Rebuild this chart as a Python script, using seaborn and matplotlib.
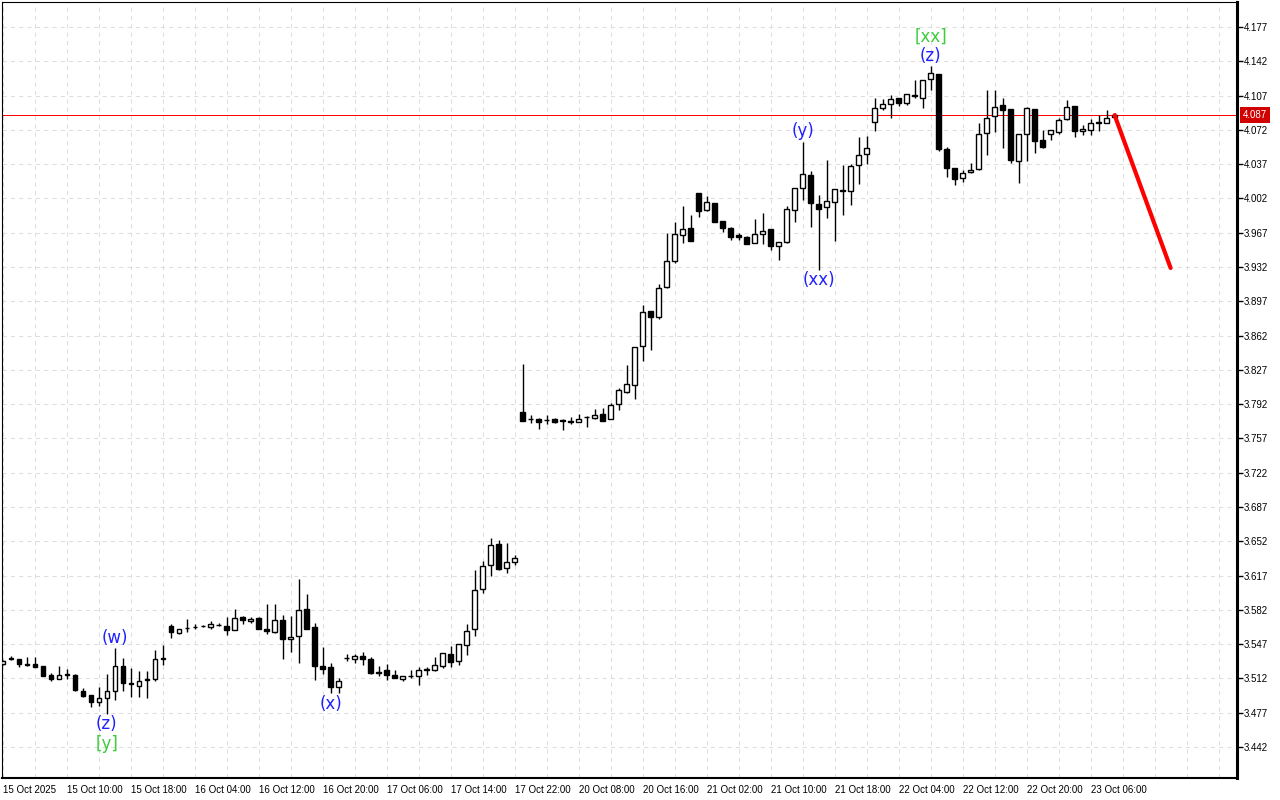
import matplotlib
matplotlib.use("Agg")
import matplotlib.pyplot as plt
import matplotlib.transforms as mtransforms
import numpy as np
import pandas as pd
import seaborn as sns

sns.set_style("white")
plt.rcParams["font.family"] = ["Liberation Sans", "DejaVu Sans"]

# ==============================
# Dados (candles H1)
# ==============================

opens = [3.527, 3.533, 3.532, 3.527, 3.527, 3.525, 3.516, 3.511, 3.517, 3.516,
         3.499, 3.495, 3.488, 3.492, 3.499, 3.525, 3.507, 3.504, 3.510, 3.511,
         3.532, 3.566, 3.558, 3.564, 3.565, 3.566, 3.565, 3.567, 3.566, 3.561,
         3.575, 3.571, 3.574, 3.562, 3.559, 3.572, 3.552, 3.555, 3.583, 3.565,
         3.525, 3.524, 3.503, 3.533, 3.532, 3.535, 3.532, 3.519, 3.521, 3.516,
         3.511, 3.515, 3.515, 3.521, 3.521, 3.525, 3.537, 3.530, 3.546, 3.562,
         3.603, 3.628, 3.649, 3.625, 3.631, 3.784, 3.777, 3.777, 3.776, 3.777,
         3.776, 3.775, 3.774, 3.779, 3.778, 3.782, 3.777, 3.792, 3.804, 3.812,
         3.851, 3.887, 3.881, 3.912, 3.938, 3.965, 3.972, 4.008, 3.990, 3.997,
         3.979, 3.972, 3.965, 3.963, 3.956, 3.966, 3.971, 3.953, 3.958, 3.990,
         4.013, 4.026, 3.996, 3.993, 3.998, 4.010, 4.010, 4.036, 4.047, 4.080,
         4.094, 4.098, 4.104, 4.099, 4.107, 4.105, 4.124, 4.129, 4.052, 4.033,
         4.023, 4.029, 4.032, 4.069, 4.086, 4.097, 4.093, 4.040, 4.068, 4.093,
         4.062, 4.068, 4.070, 4.083, 4.096, 4.071, 4.072, 4.079, 4.079, 4.085]
highs = [3.531, 3.535, 3.532, 3.534, 3.534, 3.525, 3.518, 3.525, 3.522, 3.517,
         3.502, 3.495, 3.503, 3.517, 3.543, 3.533, 3.523, 3.520, 3.520, 3.541,
         3.546, 3.568, 3.563, 3.573, 3.568, 3.567, 3.571, 3.569, 3.575, 3.583,
         3.576, 3.575, 3.575, 3.588, 3.588, 3.577, 3.576, 3.614, 3.598, 3.569,
         3.544, 3.528, 3.512, 3.537, 3.537, 3.539, 3.534, 3.525, 3.527, 3.521,
         3.515, 3.521, 3.524, 3.524, 3.534, 3.538, 3.545, 3.547, 3.568, 3.623,
         3.632, 3.655, 3.653, 3.650, 3.638, 3.833, 3.781, 3.778, 3.781, 3.778,
         3.777, 3.779, 3.782, 3.780, 3.787, 3.788, 3.793, 3.808, 3.832, 3.850,
         3.893, 3.887, 3.915, 3.967, 3.978, 3.994, 3.985, 4.008, 4.004, 3.997,
         3.979, 3.973, 3.967, 3.964, 3.981, 3.987, 3.971, 3.958, 3.994, 4.013,
         4.060, 4.030, 4.006, 4.041, 4.012, 4.036, 4.037, 4.065, 4.066, 4.105,
         4.103, 4.108, 4.104, 4.109, 4.123, 4.123, 4.137, 4.129, 4.054, 4.033,
         4.031, 4.038, 4.079, 4.113, 4.113, 4.104, 4.093, 4.068, 4.095, 4.093,
         4.072, 4.072, 4.084, 4.102, 4.096, 4.077, 4.083, 4.087, 4.092, 4.089]
lows = [3.526, 3.531, 3.524, 3.525, 3.524, 3.515, 3.509, 3.511, 3.511, 3.499,
        3.493, 3.483, 3.484, 3.476, 3.490, 3.499, 3.493, 3.493, 3.492, 3.509,
        3.526, 3.553, 3.557, 3.559, 3.562, 3.565, 3.562, 3.566, 3.556, 3.561,
        3.568, 3.569, 3.562, 3.557, 3.558, 3.532, 3.539, 3.528, 3.562, 3.510,
        3.517, 3.497, 3.497, 3.530, 3.528, 3.526, 3.517, 3.515, 3.510, 3.512,
        3.509, 3.512, 3.505, 3.516, 3.520, 3.523, 3.524, 3.526, 3.536, 3.555,
        3.599, 3.617, 3.623, 3.620, 3.628, 3.775, 3.773, 3.767, 3.772, 3.773,
        3.766, 3.772, 3.774, 3.769, 3.777, 3.775, 3.777, 3.786, 3.803, 3.797,
        3.836, 3.847, 3.879, 3.911, 3.936, 3.957, 3.959, 3.983, 3.989, 3.978,
        3.968, 3.960, 3.960, 3.955, 3.956, 3.955, 3.949, 3.939, 3.957, 3.978,
        4.000, 3.973, 3.929, 3.982, 3.959, 3.985, 3.995, 4.017, 4.037, 4.071,
        4.092, 4.084, 4.096, 4.097, 4.104, 4.094, 4.113, 4.050, 4.024, 4.016,
        4.019, 4.028, 4.031, 4.046, 4.070, 4.053, 4.038, 4.018, 4.040, 4.048,
        4.053, 4.062, 4.068, 4.082, 4.065, 4.067, 4.067, 4.071, 4.079, 4.084]
closes = [3.530, 3.532, 3.527, 3.526, 3.524, 3.515, 3.511, 3.516, 3.516, 3.500,
          3.494, 3.488, 3.492, 3.499, 3.525, 3.507, 3.506, 3.509, 3.511, 3.532,
          3.533, 3.559, 3.563, 3.564, 3.565, 3.566, 3.568, 3.567, 3.561, 3.574,
          3.572, 3.573, 3.563, 3.560, 3.572, 3.552, 3.554, 3.582, 3.563, 3.525,
          3.522, 3.503, 3.509, 3.533, 3.535, 3.532, 3.518, 3.518, 3.516, 3.512,
          3.515, 3.515, 3.521, 3.522, 3.526, 3.538, 3.529, 3.547, 3.560, 3.602,
          3.627, 3.648, 3.624, 3.631, 3.635, 3.775, 3.777, 3.774, 3.776, 3.774,
          3.775, 3.774, 3.777, 3.779, 3.781, 3.775, 3.791, 3.806, 3.813, 3.850,
          3.886, 3.881, 3.911, 3.938, 3.966, 3.971, 3.959, 3.989, 3.998, 3.978,
          3.972, 3.963, 3.963, 3.955, 3.966, 3.969, 3.953, 3.958, 3.991, 4.013,
          4.027, 3.997, 3.991, 3.999, 4.012, 4.011, 4.035, 4.046, 4.053, 4.094,
          4.098, 4.103, 4.099, 4.109, 4.108, 4.123, 4.130, 4.052, 4.033, 4.022,
          4.028, 4.031, 4.068, 4.084, 4.095, 4.092, 4.041, 4.068, 4.094, 4.061,
          4.055, 4.072, 4.082, 4.095, 4.071, 4.073, 4.079, 4.080, 4.084, 4.087]

x_labels = ["15 Oct 2025", "15 Oct 10:00", "15 Oct 18:00", "16 Oct 04:00",
            "16 Oct 12:00", "16 Oct 20:00", "17 Oct 06:00", "17 Oct 14:00",
            "17 Oct 22:00", "20 Oct 08:00", "20 Oct 16:00", "21 Oct 02:00",
            "21 Oct 10:00", "21 Oct 18:00", "22 Oct 04:00", "22 Oct 12:00",
            "22 Oct 20:00", "23 Oct 06:00"]

current_price = 4.087
forecast_bars = [139, 146]
forecast_prices = [4.087, 3.931]

# marcacoes de ondas (barra, texto, acima/abaixo)
wave_bars = [14, 13, 13, 41, 100, 102, 116, 116]
wave_texts = ["(w)", "(z)", "[y]", "(x)", "(y)", "(xx)", "(z)", "[xx]"]
wave_sides = ["top", "bottom", "bottom", "bottom", "top", "bottom", "top", "top"]

df = pd.DataFrame({"open": opens, "high": highs, "low": lows, "close": closes})
df["bar"] = np.arange(len(df))

# ==============================
# Grafico
# ==============================

fig = plt.figure(figsize=(12.8, 8), dpi=100)
ax = fig.add_axes([2 / 1280, 22 / 800, 1235 / 1280, 776 / 800])

up = df["close"] >= df["open"]
ax.vlines(df["bar"], df["low"], df["high"], color="black", lw=1.0, zorder=2)
ax.bar(df["bar"][up], (df["close"] - df["open"])[up], bottom=df["open"][up],
       width=0.55, color="white", edgecolor="black", lw=1.0, zorder=3)
ax.bar(df["bar"][~up], (df["open"] - df["close"])[~up], bottom=df["close"][~up],
       width=0.55, color="black", edgecolor="black", lw=1.0, zorder=3)

# linha do preco atual e projecao
ax.axhline(current_price, color="#ff0000", lw=0.72, zorder=1)
sns.lineplot(x=forecast_bars, y=forecast_prices, color="#ff0000", lw=3, ax=ax, zorder=5)

stack = {}
for b, t, side in zip(wave_bars, wave_texts, wave_sides):
    n = stack.get((b, side), 0)
    stack[(b, side)] = n + 1
    cor = "#3ccc3c" if t.startswith("[") else "#1f1fff"
    if side == "top":
        y, off, va = df["high"][b], 1 + 14 * n, "bottom"
    else:
        y, off, va = df["low"][b], -(1 + 14 * n), "top"
    ax.annotate(t, (b, y), xytext=(0, off), textcoords="offset points",
                ha="center", va=va, color=cor, fontsize=12, family="DejaVu Sans")

# eixos
ax.set_xlim(-0.09, 154.3)
ax.set_ylim(3.4104, 4.2025)

ax.set_xticks(np.arange(0, 8 * len(x_labels), 8))
ax.set_xticklabels(x_labels, ha="left")
ax.set_xticks(np.arange(0, 156, 4), minor=True)

yt = np.round(np.arange(3.442, 4.1775, 0.035), 3)
ax.yaxis.tick_right()
ax.set_yticks(yt)
ax.set_yticklabels([f"{v:.3f}" for v in yt])

ax.tick_params(axis="both", which="major", direction="out", length=4, width=1,
               pad=1, labelsize=7, colors="black")
ax.tick_params(axis="x", which="minor", length=0)

ax.grid(which="both", axis="x", color="#dedede", lw=0.75, ls=(0, (4, 4)))
ax.grid(which="major", axis="y", color="#dedede", lw=0.75, ls=(0, (4, 4)))
ax.set_axisbelow(True)

for lado, lw in [("left", 0.8), ("top", 0.8), ("right", 2.2), ("bottom", 1.5)]:
    ax.spines[lado].set_visible(True)
    ax.spines[lado].set_color("black")
    ax.spines[lado].set_linewidth(lw)

trans = mtransforms.blended_transform_factory(ax.transAxes, ax.transData)
ax.text(1.0045, current_price, f"{current_price:.3f}", transform=trans,
        ha="left", va="center", color="white", fontsize=7, zorder=10,
        bbox=dict(boxstyle="square,pad=0.3", fc="#d00000", ec="none"), clip_on=False)

fig.savefig("out.png", dpi=100)
